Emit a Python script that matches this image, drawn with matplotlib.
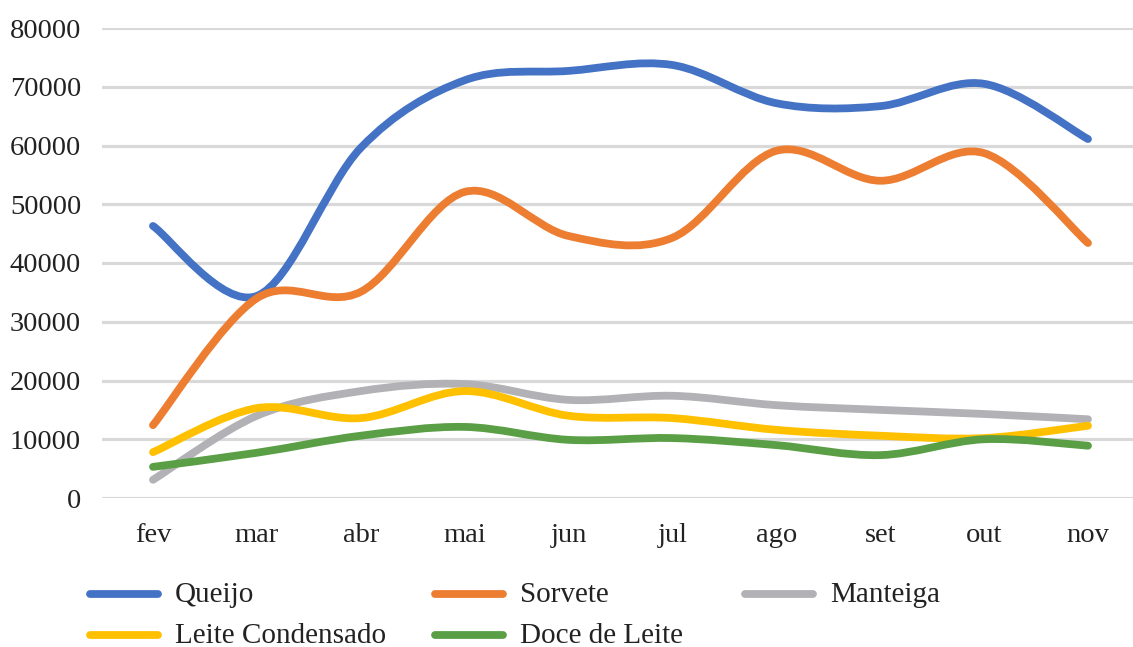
import numpy as np
import matplotlib
matplotlib.use("Agg")
import matplotlib.pyplot as plt
from matplotlib.lines import Line2D
from matplotlib.path import Path
from matplotlib.patches import PathPatch

months = ["fev", "mar", "abr", "mai", "jun", "jul", "ago", "set", "out", "nov"]
queijo = [46300, 34400, 59600, 71100, 72700, 73700, 67200, 66700, 70500, 61100]
sorvete = [12400, 34000, 35100, 52100, 44600, 44300, 59100, 54000, 58700, 43400]
manteiga = [3100, 14000, 18200, 19400, 16700, 17400, 15800, 15000, 14300, 13400]
leite_cond = [7800, 15300, 13600, 18200, 14000, 13600, 11600, 10600, 10200, 12300]
doce_leite = [5300, 7700, 10600, 12100, 9900, 10200, 9000, 7300, 10000, 8900]

series_names = ["Queijo", "Sorvete", "Manteiga", "Leite Condensado", "Doce de Leite"]
series_values = [queijo, sorvete, manteiga, leite_cond, doce_leite]
colors = ["#4472C4", "#ED7D31", "#B2B2B6", "#FFC000", "#5A9F45"]
yticks = [0, 10000, 20000, 30000, 40000, 50000, 60000, 70000, 80000]

plt.rcParams['font.family'] = ['Liberation Serif', 'DejaVu Serif']

W, H = 1133, 647
fig = plt.figure(figsize=(W / 100, H / 100), dpi=100)
ax_left, ax_right = 102, 1133
ax_top, ax_bot = 28, 498
ax = fig.add_axes([ax_left / W, (H - ax_bot) / H, (ax_right - ax_left) / W, (ax_bot - ax_top) / H])

x0_px, step_px = 153, (1088 - 153) / 9
ax.set_xlim((ax_left - x0_px) / step_px, (ax_right - x0_px) / step_px)
ax.set_ylim(0, 80000)

for s in ax.spines.values():
    s.set_visible(False)
ax.set_yticks(yticks)
ax.set_yticklabels([str(v) for v in yticks])
ax.set_xticks(range(len(months)))
ax.set_xticklabels(months)
ax.tick_params(axis='both', length=0, labelsize=20.5, colors='#222222')
ax.tick_params(axis='y', pad=15)
ax.tick_params(axis='x', pad=18)
ax.yaxis.grid(True, color='#D9D9D9', linewidth=2.3)
ax.set_axisbelow(True)


def smooth_path(xs, ys):
    xs = np.asarray(xs, float)
    ys = np.asarray(ys, float)
    n = len(xs)
    verts = [(xs[0], ys[0])]
    codes = [Path.MOVETO]
    for i in range(n - 1):
        i0 = max(i - 1, 0)
        i3 = min(i + 2, n - 1)
        c1 = (xs[i] + (xs[i + 1] - xs[i0]) / 6, ys[i] + (ys[i + 1] - ys[i0]) / 6)
        c2 = (xs[i + 1] - (xs[i3] - xs[i]) / 6, ys[i + 1] - (ys[i3] - ys[i]) / 6)
        verts += [c1, c2, (xs[i + 1], ys[i + 1])]
        codes += [Path.CURVE4] * 3
    return Path(verts, codes)


xs = np.arange(len(months))
for vals, col in zip(series_values, colors):
    p = smooth_path(xs, vals)
    patch = PathPatch(p, facecolor='none', edgecolor=col, linewidth=5.6,
                      capstyle='round', joinstyle='round', clip_on=False)
    ax.add_patch(patch)

# legend (manual, Excel-like layout)
leg_pos = [(90, 594), (435, 594), (745, 594), (90, 635), (435, 635)]
for (lx, ly), name, col in zip(leg_pos, series_names, colors):
    yf = (H - ly) / H
    fig.add_artist(Line2D([lx / W, (lx + 68) / W], [yf, yf], transform=fig.transFigure,
                          color=col, linewidth=5.6, solid_capstyle='round'))
    fig.text((lx + 85) / W, yf - 1 / H, name, fontsize=21, va='center', ha='left', color='#222222')

fig.savefig("out.png", dpi=100)
